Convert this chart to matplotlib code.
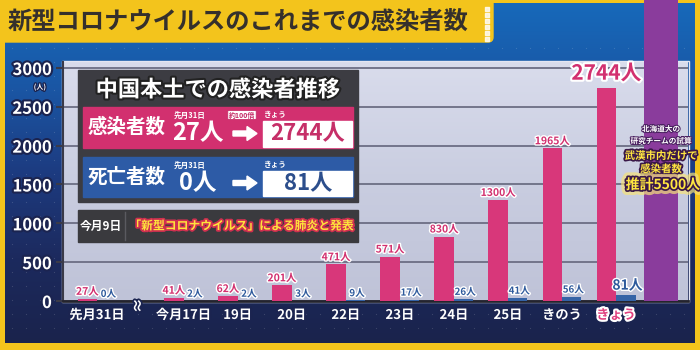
import numpy as np
import matplotlib
matplotlib.use('Agg')
import matplotlib.pyplot as plt
import matplotlib.patheffects as pe
from matplotlib.patches import Rectangle, FancyArrow, FancyBboxPatch
from matplotlib.colors import LinearSegmentedColormap

plt.rcParams['font.family'] = ['Noto Sans CJK JP', 'DejaVu Sans']
plt.rcParams['font.weight'] = 'bold'

dates = ['先月31日', '今月17日', '19日', '20日', '22日', '23日', '24日', '25日', 'きのう', 'きょう']
infected = [27, 41, 62, 201, 471, 571, 830, 1300, 1965, 2744]
deaths = [0, 2, 2, 3, 9, 17, 26, 41, 56, 81]
estimate = 5500
yticks = [0, 500, 1000, 1500, 2000, 2500, 3000]

PINK = '#d8377a'
BLUE = '#3563a6'
PURPLE = '#8a3c9c'
YELLOW = '#f3c41c'
NAVY = '#1b2450'

def stroke(c, w=3):
    return [pe.withStroke(linewidth=w, foreground=c)]

fig = plt.figure(figsize=(7, 3.5), dpi=100)

# background layer in pixel coordinates
bg = fig.add_axes([0, 0, 1, 1], zorder=0)
bg.add_patch(Rectangle((0, 0), 700, 350, color=YELLOW))
grad = np.linspace(0, 1, 256).reshape(-1, 1)
bluecm = LinearSegmentedColormap.from_list('b', ['#1769ba', '#1a56a4', '#1d3b80', '#1c2a5e', '#1a234c'])
bg.imshow(grad, extent=[5, 695, 343, 3], cmap=bluecm, aspect='auto', zorder=1)
gx, gy = np.meshgrid(np.arange(12, 695, 14), np.arange(48, 340, 14))
bg.scatter(gx.ravel(), gy.ravel(), s=0.8, c='white', alpha=0.15, lw=0, zorder=2)
bg.add_patch(FancyBboxPatch((-10, -10), 503, 52, boxstyle='round,pad=0,rounding_size=5',
                            color=YELLOW, zorder=3))
bg.scatter([487] * 6, np.arange(9, 40, 6), s=5, marker='s', c='white', alpha=0.8, zorder=4)
bg.text(8, 22, '新型コロナウイルスのこれまでの感染者数', fontsize=17.5, color='#35302c',
        va='center', ha='left', zorder=5)
panelcm = LinearSegmentedColormap.from_list('p', ['#d9dcec', '#c9cde0', '#bfc3d8'])
bg.imshow(grad, extent=[63, 688, 301, 62], cmap=panelcm, aspect='auto', zorder=6)
bg.add_patch(Rectangle((62, 61), 627, 241, fill=False, ec='#e4e6f2', lw=1, zorder=7))
bg.text(40, 87, '(人)', fontsize=5, color='white', ha='center', va='center',
        path_effects=stroke(NAVY, 2), zorder=7)
bg.set_xlim(0, 700)
bg.set_ylim(350, 0)
bg.axis('off')

# main chart
ax = fig.add_axes([63 / 700, 49 / 350, 625 / 700, 239 / 350], zorder=1)
ax.patch.set_alpha(0)
n = len(dates)
pos = np.arange(n) + np.where(np.arange(n) > 0, 0.6, 0.0)
bw = 0.36
ax.bar(pos - bw / 2, infected, bw, color=PINK, zorder=3)
ax.bar(pos + bw / 2, deaths, bw, color=BLUE, zorder=3)
ax.bar(pos[-1] + 0.83, estimate, 0.62, color=PURPLE, zorder=3, clip_on=False)

for i in range(n):
    big = i == n - 1
    ax.annotate(f'{infected[i]}人', (pos[i] - bw / 2, infected[i]), xytext=(0, 3 if big else 1.5),
                textcoords='offset points', ha='center', va='bottom',
                fontsize=15 if big else 7.5, color='#d2306f',
                path_effects=stroke('white', 3 if big else 2), zorder=5)
    ax.annotate(f'{deaths[i]}人', (pos[i] + bw / 2 + 0.03, deaths[i]), xytext=(0, 1.5),
                textcoords='offset points', ha='center', va='bottom',
                fontsize=10 if big else 7, color='#2e5a9c',
                path_effects=stroke('white', 2), zorder=5)

ax.set_xlim(-0.63, 10.93)
ax.set_ylim(0, 3077)
ax.set_yticks(yticks)
ax.set_yticklabels([str(t) for t in yticks], fontsize=12, color='white',
                   path_effects=stroke(NAVY, 3))
ax.set_xticks(pos)
ax.set_xticklabels(dates, fontsize=9.5, color='white', path_effects=stroke(NAVY, 3))
ax.get_xticklabels()[-1].set_color('#e0407f')
ax.get_xticklabels()[-1].set_path_effects(stroke('white', 3))
ax.tick_params(axis='x', length=0, pad=5)
ax.tick_params(axis='y', length=5, width=1.5, color='#3a3a48', pad=3)
ax.grid(axis='y', color='#6c6e84', lw=1.3, zorder=1)
ax.set_axisbelow(True)
for s in ['top', 'right']:
    ax.spines[s].set_visible(False)
ax.spines['left'].set_color('#3a3a48')
ax.spines['left'].set_linewidth(1.5)
ax.spines['bottom'].set_color('#24242e')
ax.spines['bottom'].set_linewidth(2)
# axis break mark between 先月31日 and 今月17日
ax.text(0.76, -60, '≈', rotation=90, fontsize=11, color='white', ha='center', va='center',
        path_effects=stroke(NAVY, 2.5), clip_on=False, zorder=6)

# overlay: summary box and purple note
ov = fig.add_axes([0, 0, 1, 1], zorder=3)
ov.patch.set_alpha(0)
ov.add_patch(Rectangle((78, 70), 280, 132, color='#3c3c42'))
ov.text(218, 90, '中国本土での感染者推移', fontsize=16, color='white', ha='center', va='center',
        path_effects=stroke('#222', 3))
rows = [(107, 148, '#d2306f', '感染者数', '27人', '2744人', '#c62f68'),
        (157, 197, '#2d5ba6', '死亡者数', '0人', '81人', '#2c4e8c')]
for y0, y1, col, name, before, after, tcol in rows:
    ov.add_patch(Rectangle((83, y0), 270, y1 - y0, color=col))
    ym = (y0 + y1) / 2
    ov.text(127, ym, name, fontsize=14, color='white', ha='center', va='center')
    ov.text(190, y0 + 8, '先月31日', fontsize=5.5, color='white', ha='center', va='center')
    ov.text(198, ym + 6, before, fontsize=17, color='white', ha='center', va='center')
    ov.add_patch(FancyArrow(233, ym + 6, 14, 0, width=5, head_width=14, head_length=10,
                            color='white', length_includes_head=False))
    ov.text(275, y0 + 8, 'きょう', fontsize=5.5, color='white', ha='center', va='center')
    ov.add_patch(Rectangle((263, y0 + 14), 89, y1 - y0 - 15, color='white'))
    ov.text(308, (y0 + 14 + y1 - 1) / 2, after, fontsize=16, color=tcol, ha='center', va='center')
ov.text(242, 115, '約100倍', fontsize=5, color='#c62f68', ha='center', va='center',
        bbox=dict(boxstyle='round,pad=0.15', fc='white', ec='#c62f68', lw=0.6))

ov.add_patch(Rectangle((78, 210), 280, 32, color='#3a3a3e'))
ov.plot([125, 125], [212, 240], color='#5a5a60', lw=1)
ov.text(101, 226, '今月9日', fontsize=8.5, color='white', ha='center', va='center')
ov.text(241, 226, '「新型コロナウイルス」による肺炎と発表', fontsize=8.5, color='#ffe33c',
        ha='center', va='center', path_effects=stroke('#d03050', 2.5))

px = 661
ov.text(px, 129, '北海道大の', fontsize=5.5, color='white', ha='center', va='center',
        path_effects=stroke('#4a2060', 1.5))
ov.text(px, 141, '研究チームの試算', fontsize=5.5, color='white', ha='center', va='center',
        path_effects=stroke('#4a2060', 1.5))
for y, t in [(156, '武漢市内だけで'), (169, '感染者数')]:
    ov.text(px, y, t, fontsize=7.5, color='#ffe640', ha='center', va='center',
            path_effects=stroke('#3a1848', 2.5))
ov.text(px + 2, 185, f'推計{estimate}人', fontsize=10, color='#ffe640', ha='center', va='center',
        path_effects=[pe.withStroke(linewidth=7, foreground='#f6e27a', alpha=0.7),
                      pe.withStroke(linewidth=2.5, foreground='#3a1848')])
ov.set_xlim(0, 700)
ov.set_ylim(350, 0)
ov.axis('off')

fig.savefig('out.png', dpi=100)
